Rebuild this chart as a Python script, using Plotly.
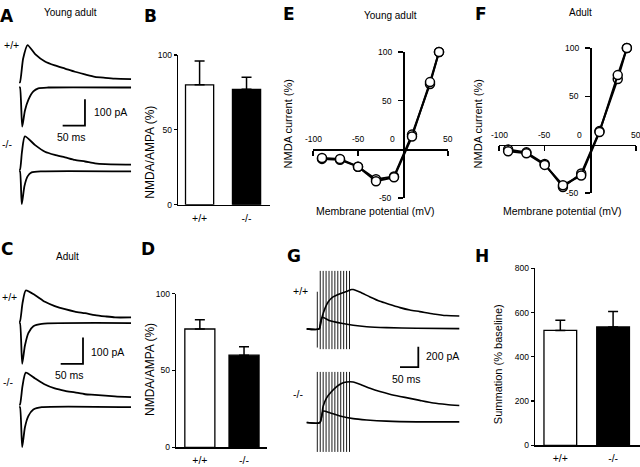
import plotly.graph_objects as go

W, H = 640, 467
FONT = "Liberation Sans, Arial, Helvetica, sans-serif"
LETTER_FONT = "DejaVu Sans, Liberation Sans, Arial, sans-serif"

# ---------------- data ----------------
genotypes = ["+/+", "-/-"]

# A: young adult EPSCs (time in ms, current in pA relative to baseline)
a_wt_nmda_t = [-2, 0, 7, 17, 34, 56, 78, 101, 123, 146, 168, 191, 213, 249]
a_wt_nmda_i = [0, 0, 89, 141, 107, 79, 64, 52, 40, 30, 21, 17, 14, 12]
a_wt_ampa_t = [-2, 0, 5, 11, 19, 30, 41, 63, 249]
a_wt_ampa_i = [0, 0, -148, -88, -46, -15, -3, 0, 0]
a_ko_nmda_t = [-2, 0, 4.5, 11, 34, 56, 78, 101, 123, 146, 168, 191, 249]
a_ko_nmda_i = [0, 0, 68, 126, 93, 68, 56, 47, 37, 31, 24, 21, 19]
a_ko_ampa_t = [-2, 0, 4, 10, 17, 26, 49, 249]
a_ko_ampa_i = [0, 0, -124, -56, -19, -4, 0, 0]

# C: adult EPSCs
c_wt_nmda_t = [-2, 0, 5.6, 13, 34, 56, 78, 101, 123, 146, 168, 191, 213, 249]
c_wt_nmda_i = [0, 0, 68, 117, 99, 74, 58, 46, 37, 31, 24, 19, 15, 15]
c_wt_ampa_t = [-2, 0, 5, 11, 19, 30, 49, 249]
c_wt_ampa_i = [0, 0, -154, -86, -37, -12, -3, 0]
c_ko_nmda_t = [-2, 0, 5.6, 13, 34, 56, 78, 101, 123, 146, 168, 213, 249]
c_ko_nmda_i = [0, 0, 70, 121, 99, 76, 61, 52, 46, 39, 37, 31, 28]
c_ko_ampa_t = [-2, 0, 5, 11, 19, 30, 49, 249]
c_ko_ampa_i = [0, 0, -151, -77, -33, -9, 0, 0]

# G: train vs single responses
g_wt_train_t = [-29, 5, 12, 21, 30, 43, 62, 80, 94, 98, 116, 144, 171, 198, 226, 253, 280, 317, 353, 388]
g_wt_train_i = [0, 0, 106, 203, 268, 316, 348, 370, 389, 389, 364, 316, 273, 242, 210, 186, 171, 148, 132, 128]
g_wt_single_t = [-29, 5, 9, 14, 34, 62, 98, 135, 189, 271, 388]
g_wt_single_i = [0, 0, 70, 115, 80, 58, 36, 22, 13, 7, 3]
g_ko_train_t = [-29, 7, 16, 25, 39, 53, 66, 80, 98, 121, 144, 171, 198, 226, 253, 280, 317, 353, 388]
g_ko_train_i = [0, 0, 161, 242, 306, 355, 386, 400, 400, 371, 338, 306, 280, 258, 239, 219, 193, 178, 168]
g_ko_single_t = [-29, 7, 16, 34, 62, 98, 135, 189, 271, 388]
g_ko_single_i = [0, 0, 113, 97, 65, 39, 26, 14, 7, 7]
g_stim_t = [0, 8, 16, 24, 32, 40, 48, 56, 64, 72, 80, 88]

# scale bars
ab_scale_ms, ab_scale_pA = 50, 100
g_scale_ms, g_scale_pA = 50, 200

# B, D, H bar data (mean, SEM)
b_mean = [80, 77]
b_sem = [16, 8]
d_mean = [77, 60]
d_sem = [6, 5.5]
h_mean = [519, 535]
h_sem = [46, 70]

# E, F I-V curves
vm = [-90, -70, -50, -30, -10, 10, 30, 40]
e_wt = [-10, -11, -18, -31, -28, 15, 67, 100]
e_ko = [-9, -10, -18, -33, -29, 13, 69, 100]
f_wt = [-5, -8, -20, -44, -30, 14, 68, 100]
f_ko = [-7, -9, -21, -42, -32, 13, 72, 100]
iv_xticks = [-100, -50, 50]
iv_yticks = [-50, 50, 100]


# ---------------- helpers ----------------
def dx(a, b):
    return [a / W, b / W]


def dy(top, bottom):
    return [1 - bottom / H, 1 - top / H]


fig = go.Figure()


def add_line(t, i, offset, ax, width=1.8, smooth=True):
    fig.add_trace(go.Scatter(
        x=t, y=[v + offset for v in i], mode="lines",
        line=dict(color="black", width=width,
                  shape="spline" if smooth else "linear", smoothing=0.6),
        xaxis="x" + ax, yaxis="y" + ax, hoverinfo="skip", showlegend=False))


def add_scalebar(t0, y0, ms, pa, ax):
    fig.add_trace(go.Scatter(
        x=[t0, t0 + ms, t0 + ms], y=[y0, y0, y0 + pa], mode="lines",
        line=dict(color="black", width=1.8),
        xaxis="x" + ax, yaxis="y" + ax, hoverinfo="skip", showlegend=False))


# ---- A (axis 1) ----
add_line(a_wt_nmda_t, a_wt_nmda_i, 503.7, "")
add_line(a_wt_ampa_t, a_wt_ampa_i, 484.1, "")
add_line(a_ko_nmda_t, a_ko_nmda_i, 173.0, "")
add_line(a_ko_ampa_t, a_ko_ampa_i, 166.7, "")
add_scalebar(95.7, 339.6, ab_scale_ms, ab_scale_pA, "")

# ---- C (axis 2) ----
add_line(c_wt_nmda_t, c_wt_nmda_i, 524.8, "2")
add_line(c_wt_ampa_t, c_wt_ampa_i, 518.5, "2")
add_line(c_ko_nmda_t, c_ko_nmda_i, 210.0, "2")
add_line(c_ko_ampa_t, c_ko_ampa_i, 200.0, "2")
add_scalebar(91.3, 364.1, ab_scale_ms, ab_scale_pA, "2")

# ---- G (axis 3) ----
g_up, g_lo = 1265.7, 341.1
sx, sy = [], []
for k, t in enumerate(g_stim_t):
    lo, hi = (-184, 367) if k == 0 else (-200, 573)
    sx += [t, t, None]
    sy += [g_up + lo, g_up + hi, None]
for t in g_stim_t:
    sx += [t, t, None]
    sy += [g_lo - 290, g_lo + 500, None]
fig.add_trace(go.Scatter(x=sx, y=sy, mode="lines", line=dict(color="black", width=0.9),
                         xaxis="x3", yaxis="y3", hoverinfo="skip", showlegend=False))
add_line(g_wt_train_t, g_wt_train_i, g_up, "3", width=1.6)
add_line(g_wt_single_t, g_wt_single_i, g_up, "3", width=1.6)
add_line(g_ko_train_t, g_ko_train_i, g_lo, "3", width=1.6)
add_line(g_ko_single_t, g_ko_single_i, g_lo, "3", width=1.6)
add_scalebar(226, 889, g_scale_ms, g_scale_pA, "3")


# ---- bars ----
def add_bars(mean, sem, ax, width):
    fig.add_trace(go.Bar(
        x=genotypes, y=mean, width=width,
        marker=dict(color=["white", "black"], line=dict(color="black", width=1.3)),
        error_y=dict(type="data", symmetric=False, array=sem, arrayminus=[0, 0],
                     color="black", thickness=1.5, width=5),
        xaxis="x" + ax, yaxis="y" + ax, hoverinfo="skip", showlegend=False))


add_bars(b_mean, b_sem, "4", 0.6)
add_bars(d_mean, d_sem, "5", 0.68)
add_bars(h_mean, h_sem, "6", 0.62)


# ---- I-V curves ----
def add_iv(y, ax):
    fig.add_trace(go.Scatter(
        x=vm, y=y, mode="lines+markers", cliponaxis=False,
        line=dict(color="black", width=2),
        marker=dict(symbol="circle", size=9, color="white",
                    line=dict(color="black", width=1.5)),
        xaxis="x" + ax, yaxis="y" + ax, hoverinfo="skip", showlegend=False))


add_iv(e_wt, "7")
add_iv(e_ko, "7")
add_iv(f_wt, "8")
add_iv(f_ko, "8")

# ---------------- axes ----------------
hidden = dict(visible=False, showgrid=False, zeroline=False)
layout = {}
layout["xaxis"] = dict(hidden, domain=dx(0, 140), range=[-44.8, 269.1], anchor="y")
layout["yaxis"] = dict(hidden, domain=dy(30, 215), range=[0, 685.2], anchor="x")
layout["xaxis2"] = dict(hidden, domain=dx(0, 140), range=[-44.8, 269.1], anchor="y2")
layout["yaxis2"] = dict(hidden, domain=dy(270, 465), range=[0, 722.2], anchor="x2")
layout["xaxis3"] = dict(hidden, domain=dx(300, 462), range=[-47.3, 395.4], anchor="y3")
layout["yaxis3"] = dict(hidden, domain=dy(265, 462), range=[0, 1903.4], anchor="x3")

tickfont_small = dict(family=FONT, size=8.5, color="black")


def bar_axes(n, xd, yd, xr, yr, yticks):
    layout["xaxis" + n] = dict(domain=xd, range=xr, anchor="y" + n, type="category",
                               showline=True, linecolor="black", linewidth=1.3,
                               ticks="", showgrid=False, zeroline=False,
                               tickfont=dict(family=FONT, size=10.5, color="black"),
                               ticklabelstandoff=3)
    layout["yaxis" + n] = dict(domain=yd, range=yr, anchor="x" + n,
                               showline=True, linecolor="black", linewidth=1.3,
                               ticks="outside", ticklen=3, tickwidth=1.2, tickcolor="black",
                               tickvals=yticks, showgrid=False, zeroline=False,
                               tickfont=tickfont_small)


bar_axes("4", dx(178, 270), dy(51, 204), [-0.46, 1.5], [0, 100], [0, 50, 100])
bar_axes("5", dx(176, 267), dy(295, 452), [-0.54, 1.52], [0, 100], [0, 50, 100])
bar_axes("6", dx(535, 640), dy(269, 450), [-0.48, 1.51], [0, 800], [0, 200, 400, 600, 800])

anns = []


def iv_axes(n, xd, yd):
    xr, yr = [-100, 50], [-50, 100]
    ypos = yd[0] + (0 - yr[0]) / (yr[1] - yr[0]) * (yd[1] - yd[0])
    xpos = xd[0] + (0 - xr[0]) / (xr[1] - xr[0]) * (xd[1] - xd[0])
    layout["xaxis" + n] = dict(domain=xd, range=xr, anchor="free", position=ypos,
                               showline=True, linecolor="black", linewidth=1.5,
                               ticks="outside", ticklen=5, tickwidth=1.5, tickcolor="black",
                               tickvals=iv_xticks, showticklabels=False,
                               showgrid=False, zeroline=False)
    layout["yaxis" + n] = dict(domain=yd, range=yr, anchor="free", position=xpos,
                               showline=True, linecolor="black", linewidth=1.5,
                               ticks="outside", ticklen=5, tickwidth=1.5, tickcolor="black",
                               tickvals=iv_yticks, showticklabels=False,
                               showgrid=False, zeroline=False)
    # x tick labels sit above the axis line
    for v in iv_xticks:
        anns.append(dict(text=str(v), x=v, y=0, xref="x" + n, yref="y" + n,
                         showarrow=False, yanchor="bottom", yshift=3,
                         font=tickfont_small))
    anns.append(dict(text="0", x=0, y=0, xref="x" + n, yref="y" + n,
                     showarrow=False, yanchor="bottom", yshift=3, xshift=-11,
                     font=tickfont_small))
    # y tick labels left of the axis line
    for v in iv_yticks:
        anns.append(dict(text=str(v), x=0, y=v, xref="x" + n, yref="y" + n,
                         showarrow=False, xanchor="right", xshift=-9,
                         font=tickfont_small))


iv_axes("7", dx(313, 448), dy(48, 197))
iv_axes("8", dx(499, 636), dy(44, 192))


# ---------------- annotations ----------------
def ann(text, x, y, size=10.5, bold=False, xanchor="center", angle=0, family=FONT):
    anns.append(dict(text="<b>%s</b>" % text if bold else text, x=x / W, y=1 - y / H,
                     xref="paper", yref="paper", showarrow=False, xanchor=xanchor,
                     yanchor="middle", textangle=angle,
                     font=dict(family=family, size=size, color="black")))


for letter, x, y in [("A", 7, 11), ("B", 150, 11), ("C", 7, 249), ("D", 148, 249),
                     ("E", 289, 9), ("F", 481, 9), ("G", 294, 257), ("H", 482, 256)]:
    ann(letter, x, y, size=17, bold=True, family=LETTER_FONT)

ann("Young adult", 70, 8, 10)
ann("Adult", 67, 257, 10)
ann("Young adult", 390, 11, 10)
ann("Adult", 580, 8, 10)

ann("+/+", 11, 41)
ann("-/-", 0, 142, xanchor="left")
ann("+/+", 0, 298, xanchor="left")
ann("-/-", 1, 385, xanchor="left")
ann("+/+", 300, 292)
ann("-/-", 298, 398)

ann("100 pA", 92, 109, xanchor="left")
ann("50 ms", 71, 135)
ann("100 pA", 89, 355, xanchor="left")
ann("50 ms", 69, 378)
ann("200 pA", 424, 359, xanchor="left")
ann("50 ms", 406, 382)

ann("NMDA/AMPA (%)", 150, 151, 12, angle=-90)
ann("NMDA/AMPA (%)", 150, 373, 12, angle=-90)
ann("Summation (% baseline)", 498, 367, 11, angle=-90)
ann("NMDA current (%)", 288, 122, 11, angle=-90)
ann("NMDA current (%)", 478, 122, 11, angle=-90)
ann("Membrane potential (mV)", 375, 210, 10.5)
ann("Membrane potential (mV)", 562, 210, 10.5)

fig.update_layout(
    width=W, height=H, autosize=False,
    margin=dict(l=0, r=0, t=0, b=0, pad=0),
    paper_bgcolor="white", plot_bgcolor="white",
    showlegend=False, font=dict(family=FONT, color="black"),
    annotations=anns, bargap=0, **layout)

fig.write_html("out.html",
               config={"displayModeBar": False, "staticPlot": True},
               post_script="document.body.style.margin='0';document.body.style.padding='0';")
